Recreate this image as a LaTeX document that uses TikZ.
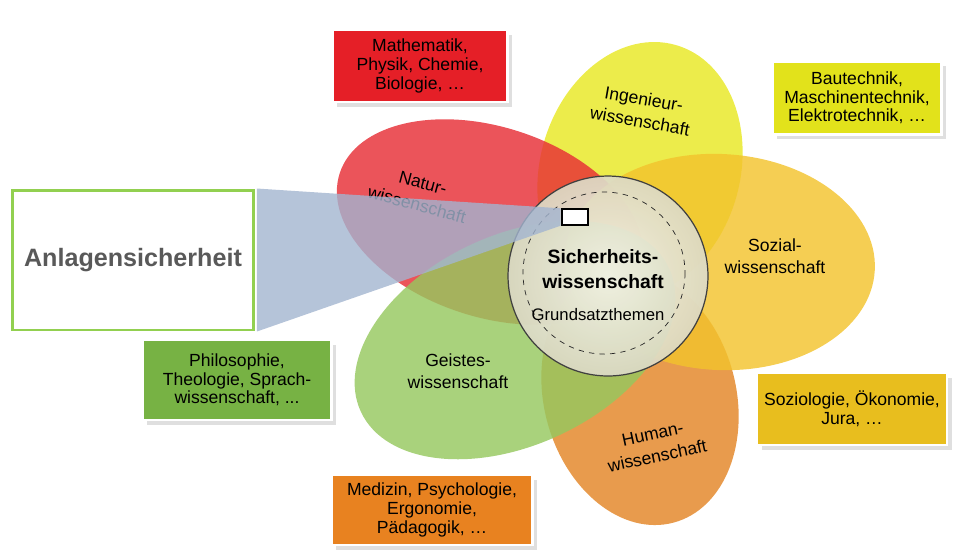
\documentclass[tikz,border=0pt]{standalone}
\usepackage{fontspec}
\setmainfont{Liberation Sans}
\usetikzlibrary{shadows}
\definecolor{naturrot}{HTML}{E72E36}
\definecolor{ingelb}{HTML}{E8E823}
\definecolor{sozgold}{HTML}{F3C32D}
\definecolor{humorange}{HTML}{E38526}
\definecolor{geistgruen}{HTML}{96C85F}
\definecolor{boxrot}{HTML}{E51F27}
\definecolor{boxgelb}{HTML}{E2E21B}
\definecolor{boxgruen}{HTML}{77B244}
\definecolor{boxgold}{HTML}{E8BE1E}
\definecolor{boxorange}{HTML}{E88220}
\definecolor{rahmen}{HTML}{92D050}
\definecolor{blaugrau}{HTML}{A3B5D0}
\definecolor{kernhell}{HTML}{F5F4EC}
\definecolor{kernrand}{HTML}{DCDAC6}
\begin{document}
\begin{tikzpicture}[x=0.02cm, y=-0.02cm,
    fach/.style={draw=white, line width=1.2pt, align=center, inner sep=2pt,
      font=\fontsize{10}{10.6}\selectfont, drop shadow={opacity=0.25}},
    feld/.style={align=center, font=\fontsize{10}{12.8}\selectfont}]
  \useasboundingbox (0,0) rectangle (953,549);
  \foreach \x/\y/\a/\b/\w/\farbe in {640/170/130/100/74/ingelb, 490/222/158/95/-18/naturrot,
      640/397/130/96/-75/humorange, 720/262/155/108/-3/sozgold, 515/340/170/105/25/geistgruen}
    \fill[\farbe, fill opacity=0.82] (\x,\y) ellipse [x radius=\a, y radius=\b, rotate=\w];
  \node[feld, rotate=-15] (natur) at (420,194) {Natur-\\wissenschaft};
  \node[feld, rotate=-10] (ingenieur) at (642,110) {Ingenieur-\\wissenschaft};
  \node[feld] (sozial) at (775,256) {Sozial-\\wissenschaft};
  \node[feld, rotate=12] (human) at (655,445) {Human-\\wissenschaft};
  \node[feld] (geistes) at (458,371) {Geistes-\\wissenschaft};
  \node[circle, minimum size=4cm, draw=gray!50!black, line width=0.7pt, inner color=kernhell,
    outer color=kernrand, fill opacity=0.92] (kern) at (608,276) {};
  \draw[dashed, gray!30!black] (604,273) circle [radius=81];
  \node[align=center, font=\bfseries\fontsize{11}{14}\selectfont] (sicher) at (603,269) {Sicherheits-\\wissenschaft};
  \node[font=\fontsize{9.5}{11}\selectfont] (grund) at (598,315) {Grundsatzthemen};
  \node[draw=rahmen, line width=1.7pt, fill=white, minimum width=4.84cm, minimum height=2.8cm,
    font=\bfseries\fontsize{14.3}{16}\selectfont, text=black!65] (anlage) at (133,260) {Anlagensicherheit};
  \node[draw, fill=white, line width=0.8pt, minimum width=0.52cm, minimum height=0.32cm] (marke) at (575,217) {};
  \fill[blaugrau, fill opacity=0.8] ([xshift=0.85pt]anlage.north east) -- ([xshift=-0.4pt]marke.north west)
    -- ([xshift=-0.4pt]marke.south west) -- ([xshift=0.85pt]anlage.south east) -- cycle;
  \node[fach, fill=boxrot, minimum width=3.5cm, minimum height=1.44cm] (mathe) at (420,66) {Mathematik,\\Physik, Chemie,\\Biologie, \dots};
  \node[fach, fill=boxgelb, minimum width=3.38cm, minimum height=1.46cm] (bau) at (857,98) {Bautechnik,\\Maschinentechnik,\\Elektrotechnik, \dots};
  \node[fach, fill=boxgruen, minimum width=3.78cm, minimum height=1.6cm] (philo) at (237,380) {Philosophie,\\Theologie, Sprach-\\wissenschaft, ...};
  \node[fach, fill=boxgold, minimum width=3.8cm, minimum height=1.44cm] (sozio) at (852,409) {Soziologie, Ökonomie,\\Jura, \dots};
  \node[fach, fill=boxorange, minimum width=4.02cm, minimum height=1.4cm] (medizin) at (432,510) {Medizin, Psychologie,\\Ergonomie,\\Pädagogik, \dots};
\end{tikzpicture}
\end{document}
